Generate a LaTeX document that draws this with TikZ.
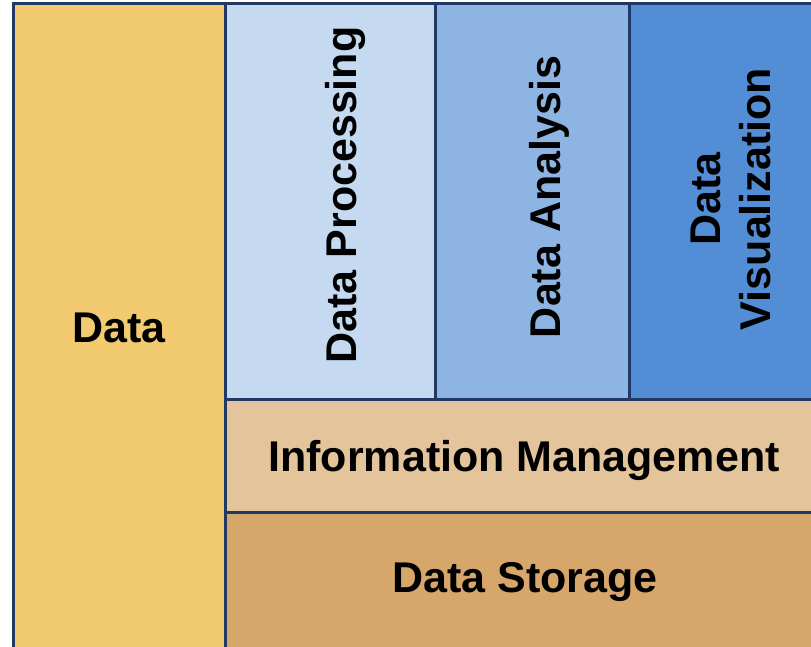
\documentclass[tikz,border=0pt]{standalone}
\usepackage{fontspec}
\setmainfont{Liberation Sans}
\definecolor{cdata}{HTML}{F2CB70}
\definecolor{cproc}{HTML}{C5D9F1}
\definecolor{cana}{HTML}{8EB4E3}
\definecolor{cvis}{HTML}{538DD5}
\definecolor{cinfo}{HTML}{E4C59B}
\definecolor{cstor}{HTML}{D6A66B}
\definecolor{cline}{HTML}{1F3864}
\begin{document}
\begin{tikzpicture}[x=1pt,y=-1pt,
  blk/.style={draw=cline,line width=3pt},
  lbl/.style={font=\bfseries\fontsize{43}{47}\selectfont,text=black,inner sep=0pt,align=center}]
\useasboundingbox (0,0) rectangle (811,646);
\clip (0,0) rectangle (811,646);
\fill[white] (0,0) rectangle (811,646);
\filldraw[blk,fill=cdata] (13,3) rectangle (225,660);
\filldraw[blk,fill=cproc] (225,3) rectangle (435,399);
\filldraw[blk,fill=cana] (435,3) rectangle (629,399);
\filldraw[blk,fill=cvis] (629,3) rectangle (830,399);
\filldraw[blk,fill=cinfo] (225,399) rectangle (830,512);
\filldraw[blk,fill=cstor] (225,512) rectangle (830,660);
\node[lbl] (data) at (119,328) {Data};
\node[lbl,rotate=90] (proc) at (345,195) {Data Processing};
\node[lbl,rotate=90] (ana) at (549,197) {Data Analysis};
\node[lbl,rotate=90] (vis) at (731,199) {Data\\[3pt]Visualization};
\node[lbl] (info) at (524,460) {Information Management};
\node[lbl] (stor) at (525,582) {Data Storage};
\end{tikzpicture}
\end{document}
